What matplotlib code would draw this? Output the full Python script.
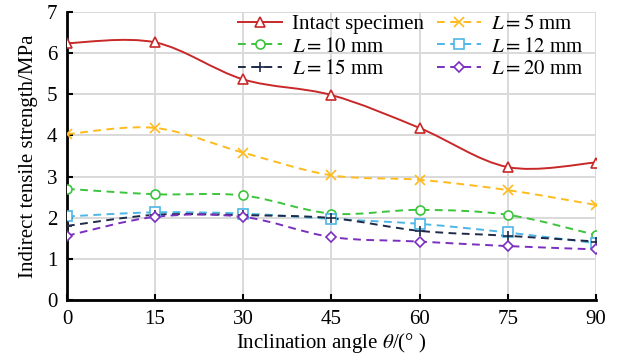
import numpy as np
import matplotlib.pyplot as plt
from matplotlib.path import Path
from matplotlib.patches import PathPatch
from matplotlib.lines import Line2D

# -----------------------------
# Data
# -----------------------------
angles = [0, 15, 30, 45, 60, 75, 90]

intact = [6.24, 6.26, 5.36, 4.98, 4.18, 3.23, 3.34]
l5 = [4.03, 4.18, 3.58, 3.03, 2.92, 2.67, 2.31]
l10 = [2.70, 2.57, 2.54, 2.10, 2.19, 2.07, 1.58]
l12 = [2.03, 2.13, 2.10, 1.97, 1.85, 1.64, 1.38]
l15 = [1.80, 2.07, 2.06, 1.99, 1.68, 1.56, 1.42]
l20 = [1.56, 2.02, 2.02, 1.53, 1.42, 1.31, 1.23]

labels = ["Intact specimen", r"$L=5$ mm", r"$L=10$ mm",
          r"$L=12$ mm", r"$L=15$ mm", r"$L=20$ mm"]

xticks = [0, 15, 30, 45, 60, 75, 90]
yticks = [0, 1, 2, 3, 4, 5, 6, 7]

# -----------------------------
# Style
# -----------------------------
plt.rcParams['font.family'] = ['Liberation Serif', 'DejaVu Serif']
plt.rcParams['mathtext.fontset'] = 'stix'

series = [
    (intact, '#c82828', '-', '^', labels[0]),
    (l5, '#ffbb1c', '--', 'x', labels[1]),
    (l10, '#3cc43c', '--', 'o', labels[2]),
    (l12, '#4db6e6', '--', 's', labels[3]),
    (l15, '#1f2a48', '--', '+', labels[4]),
    (l20, '#7a2fbf', '--', 'D', labels[5]),
]


def smooth_path(x, y):
    # Excel-style smoothed line: cubic Bezier segments between points
    x = np.asarray(x, float)
    y = np.asarray(y, float)
    pts = np.column_stack([x, y])
    verts = [pts[0]]
    codes = [Path.MOVETO]
    n = len(pts)
    for i in range(n - 1):
        p0 = pts[i - 1] if i > 0 else pts[i]
        p1 = pts[i]
        p2 = pts[i + 1]
        p3 = pts[i + 2] if i + 2 < n else pts[i + 1]
        c1 = p1 + (p2 - p0) / 6.0
        c2 = p2 - (p3 - p1) / 6.0
        verts += [c1, c2, p2]
        codes += [Path.CURVE4] * 3
    return Path(verts, codes)


fig = plt.figure(figsize=(6.2, 3.61), dpi=100)
ax = fig.add_axes([0.108, 0.169, 0.853, 0.798])

handles = []
for vals, col, ls, mk, lab in series:
    ls_draw = (0, (4, 2.8)) if ls == '--' else '-'
    patch = PathPatch(smooth_path(angles, vals), facecolor='none',
                      edgecolor=col, lw=1.4, linestyle=ls_draw, zorder=3)
    ax.add_patch(patch)
    mfc = 'white' if mk in ('^', 'o', 's', 'D') else col
    ms = 4.8 if mk == 'D' else 6.5
    ax.plot(angles, vals, linestyle='none', marker=mk, ms=ms,
            mfc=mfc, mec=col, mew=1.2, zorder=4)
    handles.append(Line2D([], [], color=col, lw=1.4, linestyle=ls_draw,
                          marker=mk, ms=ms, mfc=mfc, mec=col, mew=1.2,
                          label=lab))

ax.set_xlim(0, 90)
ax.set_ylim(0, 7)
ax.set_xticks(xticks)
ax.set_yticks(yticks)
ax.grid(True, color='#d9d9d9', lw=1.4, zorder=0)
ax.set_axisbelow(True)

for s in ['top', 'right']:
    ax.spines[s].set_visible(False)
for s in ['left', 'bottom']:
    ax.spines[s].set_linewidth(2.0)
    ax.spines[s].set_color('black')

ax.tick_params(direction='in', length=4, width=1.5, labelsize=15, pad=7)

ax.set_xlabel(r"Inclination angle $\theta$/(° )", fontsize=15, labelpad=2)
ax.set_ylabel("Indirect tensile strength/MPa", fontsize=15, labelpad=6)

order = [0, 2, 4, 1, 3, 5]
ax.legend([handles[i] for i in order], [handles[i].get_label() for i in order],
          ncol=2, loc='upper right', bbox_to_anchor=(1.0, 1.035),
          frameon=False, fontsize=15, handlelength=2.1, handletextpad=0.5,
          columnspacing=0.6, labelspacing=0.15, borderaxespad=0.2)

fig.savefig("out.png", dpi=100)
